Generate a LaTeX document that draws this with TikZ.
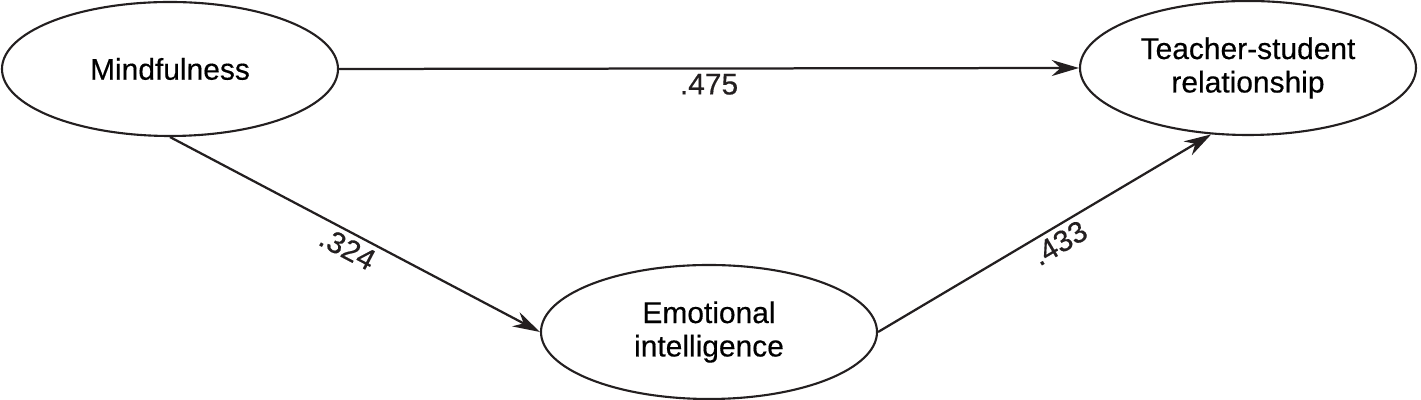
\documentclass[tikz,border=0pt]{standalone}
\usepackage{fontspec}
\setmainfont[FakeBold=0.4]{Liberation Sans}
\usetikzlibrary{arrows.meta, shapes.geometric}
\definecolor{ink}{HTML}{231F20}

\begin{document}
\begin{tikzpicture}[
        var/.style={draw=ink, line width=1.5pt, ellipse, minimum width=8.4cm, minimum height=3.35cm, align=center, inner sep=0pt, font=\fontsize{21.3}{23.8}\selectfont},
        effect/.style={draw=ink, line width=1.6pt, -{Stealth[length=0.68cm, width=0.4cm, inset=0.22cm]}},
        coef/.style={text=ink, font=\fontsize{21.3}{23.5}\selectfont, inner sep=3pt}
    ]
        \useasboundingbox (0,0) rectangle (35.525,10);

        \node[var] (mind) at (4.25,8.275) {Mindfulness};
        \node[var] (tsr) at (31.2,8.3) {Teacher-student\\relationship};
        \node[var] (ei) at (17.725,1.7) {Emotional\\intelligence};

        \draw[effect] (mind.east) -- (tsr.west) node[coef, midway, below]{.475};
        \draw[effect] (mind.south) -- (ei.west) node[coef, midway, sloped, below]{.324};
        \draw[effect] (ei.east) -- (tsr.241) node[coef, pos=0.52, sloped, below]{.433};

    \end{tikzpicture}
\end{document}
